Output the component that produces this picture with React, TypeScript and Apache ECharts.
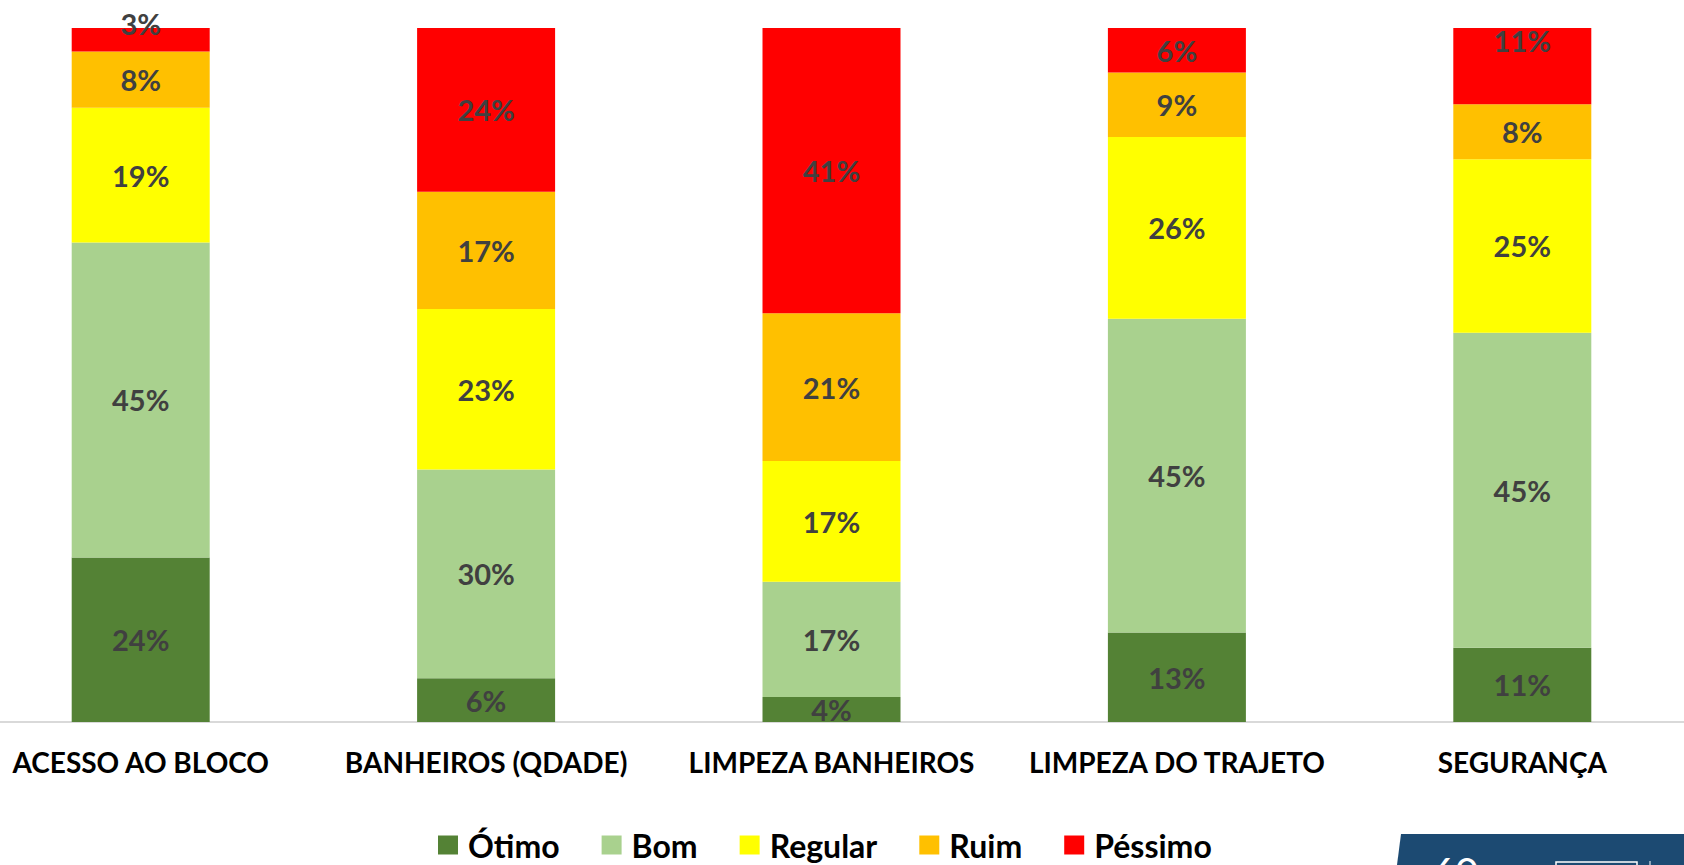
import React, { useEffect, useRef } from "react";
import * as echarts from "echarts";

const categories = [
  "ACESSO AO BLOCO",
  "BANHEIROS (QDADE)",
  "LIMPEZA BANHEIROS",
  "LIMPEZA DO TRAJETO",
  "SEGURANÇA",
];

const otimo = [23.7, 6.3, 3.6, 12.9, 10.7];
const bom = [45.4, 30.1, 16.6, 45.2, 45.4];
const regular = [19.4, 23.1, 17.4, 26.2, 25.0];
const ruim = [8.1, 16.9, 21.3, 9.3, 7.9];
const pessimo = [3.4, 23.6, 41.1, 6.4, 11.0];

const seriesNames = ["Ótimo", "Bom", "Regular", "Ruim", "Péssimo"];
const seriesData = [otimo, bom, regular, ruim, pessimo];
const seriesColors = ["#548235", "#A9D18E", "#FFFF00", "#FFC000", "#FF0000"];

// label nudges (series index -> category index -> dy)
const labelNudges: Record<number, Record<number, number>> = {
  4: { 0: -16, 4: -26 },
};

const FONT = "Lato, 'Noto Sans', sans-serif";
const SHIFT = 32; // chart canvas starts 32px left of the page
const CW = 1727;

export default function App() {
  const ref = useRef<HTMLDivElement>(null);

  useEffect(() => {
    if (!ref.current) return;
    const chart = echarts.init(ref.current, null, { renderer: "svg" });

    const series = seriesNames.map((name, si) => ({
      name,
      type: "bar",
      stack: "total",
      barWidth: 138,
      itemStyle: { color: seriesColors[si] },
      label: {
        show: true,
        position: "inside",
        formatter: (p: any) => Math.round(p.value) + "%",
        color: "#404040",
        fontFamily: FONT,
        fontWeight: "bold",
        fontSize: 29,
      },
      data: seriesData[si].map((v, ci) => {
        const dy = labelNudges[si] && labelNudges[si][ci];
        return dy !== undefined ? { value: v, label: { offset: [0, dy] } } : v;
      }),
    }));

    chart.setOption({
      animation: false,
      backgroundColor: "#ffffff",
      grid: { left: 0, right: 0, top: 28, bottom: 143 },
      xAxis: {
        type: "category",
        data: categories,
        axisLine: { show: true, lineStyle: { color: "#D9D9D9", width: 2 } },
        axisTick: { show: false },
        axisLabel: {
          interval: 0,
          color: "#000000",
          fontFamily: FONT,
          fontWeight: "bold",
          fontSize: 28,
          margin: 26,
        },
      },
      yAxis: {
        type: "value",
        min: 0,
        max: 100,
        show: false,
        splitLine: { show: false },
      },
      legend: {
        data: seriesNames,
        left: 433 + SHIFT,
        top: 824,
        icon: "rect",
        itemWidth: 20,
        itemHeight: 19,
        itemGap: 42,
        textStyle: {
          color: "#000000",
          fontFamily: FONT,
          fontWeight: "bold",
          fontSize: 32,
          lineHeight: 32,
          padding: [0, 0, 0, 5],
        },
      },
      graphic: [
        {
          type: "polygon",
          shape: {
            points: [
              [1401 + SHIFT, 834],
              [CW, 834],
              [CW, 865],
              [1397 + SHIFT, 865],
            ],
          },
          style: { fill: "#1C4A72" },
        },
        {
          type: "text",
          x: 1432 + SHIFT,
          y: 852,
          style: { text: "60", fill: "#ffffff", font: "40px Lato, sans-serif" },
        },
        {
          type: "rect",
          shape: { x: 1556 + SHIFT, y: 862, width: 81, height: 20 },
          style: { fill: "none", stroke: "#ffffff", lineWidth: 1.5 },
        },
        {
          type: "line",
          shape: { x1: 1650 + SHIFT, y1: 861, x2: 1650 + SHIFT, y2: 865 },
          style: { stroke: "#ffffff", lineWidth: 1 },
        },
      ],
      series,
    });

    return () => chart.dispose();
  }, []);

  return (
    <div
      style={{
        position: "fixed",
        left: 0,
        top: 0,
        width: 1684,
        height: 865,
        overflow: "hidden",
        background: "#ffffff",
      }}
    >
      <div
        ref={ref}
        style={{ position: "absolute", left: -SHIFT, top: 0, width: CW, height: 865 }}
      />
    </div>
  );
}
